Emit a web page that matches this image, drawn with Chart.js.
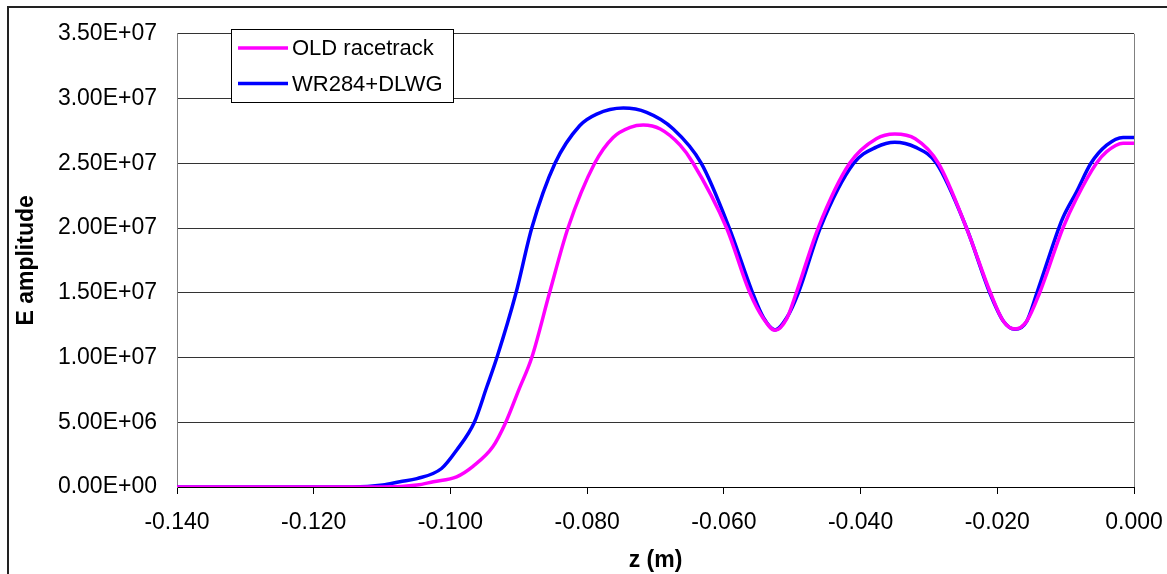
<!DOCTYPE html>
<html lang="en">
<head>
    <meta charset="UTF-8">
    <title>E amplitude vs z</title>
    <script src="https://cdn.jsdelivr.net/npm/chart.js@4.4.1/dist/chart.umd.min.js"></script>
    <style>
        body { margin: 0; background: #fff; overflow: hidden; }
        #wrap { position: relative; width: 1167px; height: 574px; }
        #frame { position: absolute; left: 7px; top: 6px; width: 1200px; height: 600px; border: 2px solid #222; box-sizing: border-box; }
        canvas { position: absolute; left: 0; top: 0; }
    </style>
</head>
<body>
    <div id="wrap">
        <div id="frame"></div>
        <canvas id="fieldChart" width="1167" height="574"></canvas>
    </div>
    <script>
        // OLD racetrack coupler, z in m, E in V/m
        const zOld = [-0.14, -0.1099, -0.1049, -0.1025, -0.0991, -0.0967, -0.0938, -0.0919, -0.0900, -0.0881,
            -0.0855, -0.0828, -0.0789, -0.0762, -0.0737, -0.0718, -0.0693, -0.0664, -0.0646, -0.0596,
            -0.0562, -0.0542, -0.0525, -0.0508, -0.0494, -0.0462, -0.0416, -0.0377, -0.0350, -0.0320,
            -0.0286, -0.0245, -0.0210, -0.0191, -0.0174, -0.0157, -0.0138, -0.0104, -0.0084, -0.0055,
            -0.0040, -0.0016, 0.0];
        const eOld = [0, 0, 0.15e6, 0.41e6, 0.79e6, 1.6e6, 3.1e6, 5.0e6, 7.5e6, 10.0e6,
            15.0e6, 20.0e6, 25.0e6, 27.0e6, 27.78e6, 27.96e6, 27.65e6, 26.4e6, 25.1e6, 20.0e6,
            15.0e6, 13.0e6, 12.1e6, 13.0e6, 15.0e6, 20.0e6, 25.0e6, 26.9e6, 27.27e6, 26.9e6,
            25.0e6, 20.0e6, 15.0e6, 12.8e6, 12.2e6, 12.8e6, 15.0e6, 20.0e6, 22.3e6, 25.0e6,
            25.9e6, 26.55e6, 26.55e6];

        // WR284 + DLWG
        const zNew = [-0.14, -0.1144, -0.1099, -0.1074, -0.1049, -0.1013, -0.0991, -0.0965, -0.0947, -0.0932,
            -0.0904, -0.0881, -0.0847, -0.0811, -0.0786, -0.0747, -0.0713, -0.0674, -0.0633, -0.0592,
            -0.0558, -0.0542, -0.0525, -0.0508, -0.0491, -0.0459, -0.0410, -0.0377, -0.0350, -0.0320,
            -0.0289, -0.0245, -0.0211, -0.0191, -0.0174, -0.0157, -0.0142, -0.0110, -0.0104, -0.0084,
            -0.0063, -0.0040, -0.0016, 0.0];
        const eNew = [0, 0, 0.15e6, 0.41e6, 0.65e6, 1.43e6, 2.84e6, 5.0e6, 7.7e6, 10.0e6,
            15.0e6, 20.0e6, 25.0e6, 27.9e6, 28.8e6, 29.26e6, 28.93e6, 27.65e6, 25.0e6, 20.0e6,
            15.0e6, 13.07e6, 12.13e6, 13.07e6, 15.0e6, 20.0e6, 25.0e6, 26.25e6, 26.63e6, 26.25e6,
            25.0e6, 20.0e6, 15.0e6, 12.8e6, 12.18e6, 12.8e6, 15.0e6, 20.0e6, 20.8e6, 22.8e6,
            25.0e6, 26.4e6, 27.0e6, 27.0e6];

        const seriesNames = ['OLD racetrack', 'WR284+DLWG'];
        const seriesColors = ['#ff00ff', '#0000ff'];

        const FONT = '"Liberation Sans", Arial, sans-serif';

        function toPoints(xs, ys) {
            return xs.map((x, i) => ({ x: x, y: ys[i] }));
        }

        function sciLabel(v) {
            const [m, e] = Number(v).toExponential(2).toUpperCase().split('E');
            const sign = e[0] === '-' ? '-' : '+';
            const digits = e.replace(/[+-]/, '').padStart(2, '0');
            return m + 'E' + sign + digits;
        }

        // right border of the plot + legend box inside the plot
        const framePlugin = {
            id: 'frameAndLegend',
            afterDraw(chart) {
                const { ctx, chartArea } = chart;
                ctx.save();
                ctx.strokeStyle = '#808080';
                ctx.lineWidth = 1;
                ctx.beginPath();
                ctx.moveTo(Math.round(chartArea.right) + 0.5, chartArea.top);
                ctx.lineTo(Math.round(chartArea.right) + 0.5, chartArea.bottom);
                ctx.stroke();

                // legend
                ctx.fillStyle = '#fff';
                ctx.fillRect(231, 29, 222, 73);
                ctx.strokeStyle = '#000';
                ctx.strokeRect(231.5, 29.5, 222, 73);
                ctx.font = '22px ' + FONT;
                ctx.textBaseline = 'middle';
                chart.data.datasets.forEach((ds, i) => {
                    const y = 48 + i * 35.5;
                    ctx.strokeStyle = ds.borderColor;
                    ctx.lineWidth = 3.5;
                    ctx.beginPath();
                    ctx.moveTo(238, y);
                    ctx.lineTo(288, y);
                    ctx.stroke();
                    ctx.fillStyle = '#000';
                    ctx.fillText(ds.label, 292, y + 1);
                });
                ctx.restore();
            }
        };

        const ctx = document.getElementById('fieldChart').getContext('2d');
        new Chart(ctx, {
            type: 'scatter',
            data: {
                datasets: [
                    {
                        label: seriesNames[0],
                        data: toPoints(zOld, eOld),
                        borderColor: seriesColors[0],
                        backgroundColor: seriesColors[0],
                        borderWidth: 3.5,
                        showLine: true,
                        pointRadius: 0,
                        cubicInterpolationMode: 'monotone'
                    },
                    {
                        label: seriesNames[1],
                        data: toPoints(zNew, eNew),
                        borderColor: seriesColors[1],
                        backgroundColor: seriesColors[1],
                        borderWidth: 3.5,
                        showLine: true,
                        pointRadius: 0,
                        cubicInterpolationMode: 'monotone'
                    }
                ]
            },
            options: {
                responsive: false,
                animation: false,
                layout: { padding: { top: 31, right: 33, left: 0, bottom: 0 } },
                plugins: {
                    legend: { display: false },
                    tooltip: { enabled: false }
                },
                scales: {
                    x: {
                        type: 'linear',
                        min: -0.14,
                        max: 0,
                        afterFit(scale) {
                            scale.height = 87;
                            scale.paddingLeft = 0;
                            scale.paddingRight = 0;
                        },
                        ticks: {
                            stepSize: 0.02,
                            color: '#000',
                            font: { family: FONT, size: 23 },
                            padding: 15,
                            maxRotation: 0,
                            callback: v => Number(v).toFixed(3)
                        },
                        grid: { drawOnChartArea: false, drawTicks: true, tickLength: 7, color: '#000' },
                        border: { color: '#000', width: 1 },
                        title: {
                            display: true,
                            text: 'z (m)',
                            color: '#000',
                            font: { family: FONT, size: 23, weight: 'bold' },
                            padding: { top: 7, bottom: 0 }
                        }
                    },
                    y: {
                        min: 0,
                        max: 3.5e7,
                        afterFit(scale) { scale.width = 177; },
                        ticks: {
                            stepSize: 5e6,
                            color: '#000',
                            font: { family: FONT, size: 23 },
                            padding: 20,
                            callback: v => sciLabel(v)
                        },
                        grid: { color: '#333', lineWidth: 1, drawTicks: false },
                        border: { color: '#808080', width: 1 },
                        title: {
                            display: true,
                            text: 'E amplitude',
                            color: '#000',
                            font: { family: FONT, size: 23, weight: 'bold' },
                            padding: { top: 13, bottom: 0 }
                        }
                    }
                }
            },
            plugins: [framePlugin]
        });
    </script>
</body>
</html>
